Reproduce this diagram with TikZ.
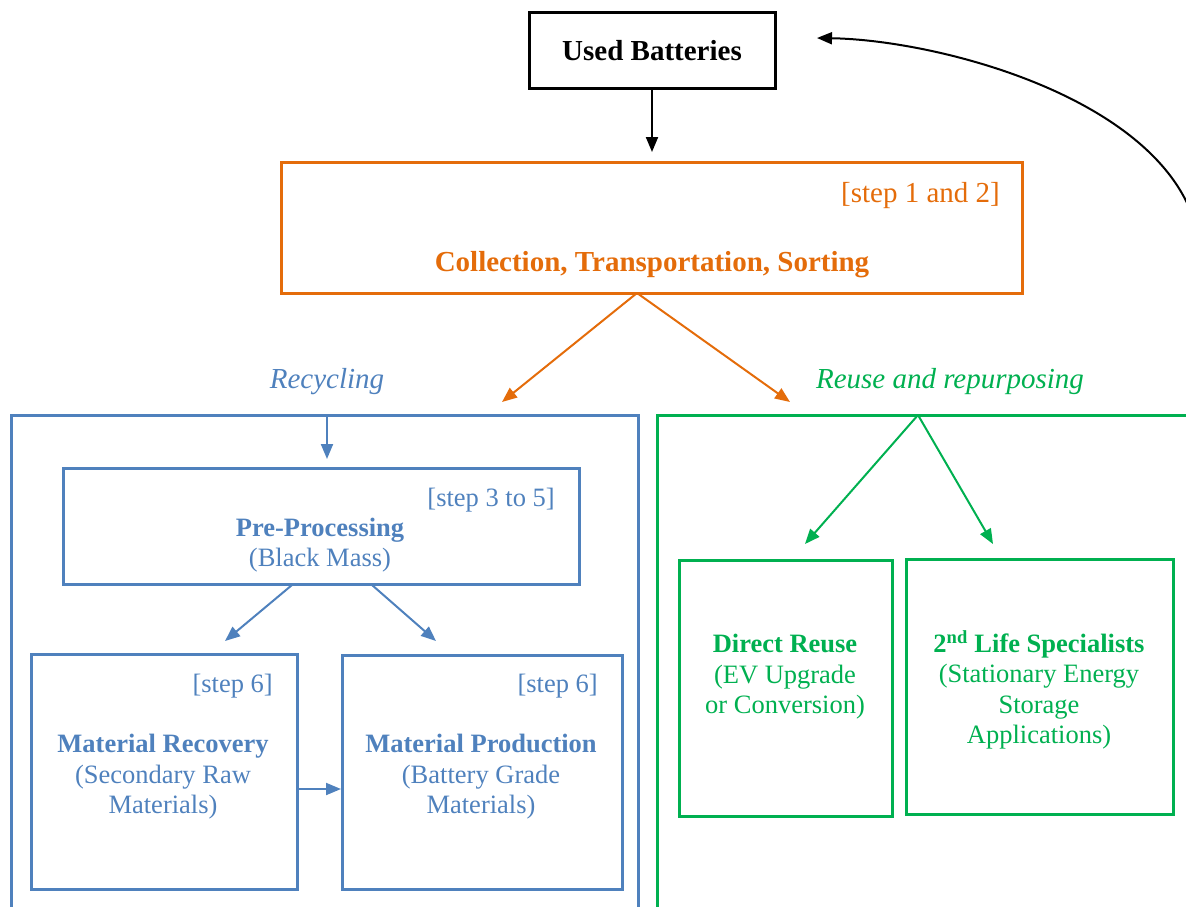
\documentclass[tikz,border=0pt]{standalone}
\usepackage{fontspec}
\setmainfont{Liberation Serif}
\usetikzlibrary{arrows.meta}
\definecolor{cOrange}{RGB}{228,108,10}
\definecolor{cBlue}{RGB}{79,129,189}
\definecolor{cGreen}{RGB}{0,176,80}
\newcommand\fbigx{\fontsize{29}{33}\selectfont}
\newcommand\fsmallx{\fontsize{26.5}{30.5}\selectfont}
\begin{document}
\begin{tikzpicture}[x=1pt,y=-1pt,
  boxx/.style={draw, line width=3pt, inner sep=0pt, rectangle},
  txt/.style={inner sep=0pt, align=center},
  conn/.style={line width=2pt, -{Triangle[length=15pt,width=12pt]}},
]
\useasboundingbox (0,0) rectangle (1186,906);
\clip (0,0) rectangle (1186,906);
% Used batteries
\node[boxx, draw=black, minimum width=246, minimum height=76] (used) at (652,50) {};
\node[txt, font=\fbigx\bfseries] (usedt) at (652,51) {Used Batteries};
% collection
\node[boxx, draw=cOrange, minimum width=741, minimum height=131] (coll) at (651.5,227.5) {};
\node[txt, font=\fbigx, text=cOrange, anchor=base east] (collstep) at (1000,202) {[step 1 and 2]};
\node[txt, font=\fbigx\bfseries, text=cOrange, anchor=base] (collt) at (652,271) {Collection, Transportation, Sorting};
\coordinate (collb) at (637,293);
\coordinate (collin) at (652,152);
\draw[conn, black] (used.south) -- (collin);
% branch labels
\node[txt, font=\fbigx\itshape, text=cBlue] (recl) at (327,382) {Recycling};
\node[txt, font=\fbigx\itshape, text=cGreen] (reul) at (950,382) {Reuse and repurposing};
% outer boxes
\node[boxx, draw=cBlue, minimum width=627, minimum height=560, anchor=north west] (recbox) at (10,414) {};
\node[boxx, draw=cGreen, minimum width=600, minimum height=560, anchor=north west] (reubox) at (656,414) {};
\coordinate (recin) at (502,402);
\coordinate (reuin) at (790,402);
\draw[conn, cOrange] (collb) -- (recin);
\draw[conn, cOrange] (collb) -- (reuin);
% pre-processing
\node[boxx, draw=cBlue, minimum width=516, minimum height=116, anchor=north west] (pre) at (62,467) {};
\coordinate (rectop) at (327,414);
\coordinate (pretop) at (327,459);
\draw[conn, cBlue] (rectop) -- (pretop);
\node[txt, font=\fsmallx, text=cBlue, anchor=base east] (prestep) at (555,506) {[step 3 to 5]};
\node[txt, font=\fsmallx, text=cBlue] (pret) at (320,545) {\textbf{Pre-Processing}\\(Black Mass)};
% material recovery / production
\node[boxx, draw=cBlue, minimum width=266, minimum height=235, anchor=north west] (mrec) at (30,653) {};
\node[boxx, draw=cBlue, minimum width=280, minimum height=234, anchor=north west] (mprod) at (341,654) {};
\coordinate (preb1) at (292,585);
\coordinate (preb2) at (372,585);
\coordinate (mrecin) at (225,641);
\coordinate (mprodin) at (436,641);
\draw[conn, cBlue] (preb1) -- (mrecin);
\draw[conn, cBlue] (preb2) -- (mprodin);
\node[txt, font=\fsmallx, text=cBlue, anchor=base east] (mrecstep) at (273,692) {[step 6]};
\node[txt, font=\fsmallx, text=cBlue, anchor=base east] (mprodstep) at (598,692) {[step 6]};
\node[txt, font=\fsmallx, text=cBlue] (mrect) at (163,777) {\textbf{Material Recovery}\\(Secondary Raw\\Materials)};
\node[txt, font=\fsmallx, text=cBlue] (mprodt) at (481,777) {\textbf{Material Production}\\(Battery Grade\\Materials)};
\draw[conn, cBlue] (mrec.east |- 0,789) -- (mprod.west |- 0,789);
% reuse branch
\node[boxx, draw=cGreen, minimum width=213, minimum height=256, anchor=north west] (direct) at (678,559) {};
\node[boxx, draw=cGreen, minimum width=267, minimum height=255, anchor=north west] (second) at (905,558) {};
\coordinate (reutop) at (918,415);
\coordinate (directin) at (805,544);
\coordinate (secondin) at (993,544);
\draw[conn, cGreen] (reutop) -- (directin);
\draw[conn, cGreen] (reutop) -- (secondin);
\node[txt, font=\fsmallx, text=cGreen] (directt) at (785,677) {\textbf{Direct Reuse}\\(EV Upgrade\\or Conversion)};
\node[txt, font=\fsmallx, text=cGreen] (secondt) at (1039,690) {\textbf{2\textsuperscript{nd} Life Specialists}\\(Stationary Energy\\Storage\\Applications)};
% return loop
\coordinate (loopstart) at (1198,235);
\coordinate (loopend) at (817,38);
\draw[line width=2pt, -{Triangle[length=15pt,width=12pt]}] (loopstart) .. controls (1170,100) and (940,40) .. (loopend);
\end{tikzpicture}
\end{document}
